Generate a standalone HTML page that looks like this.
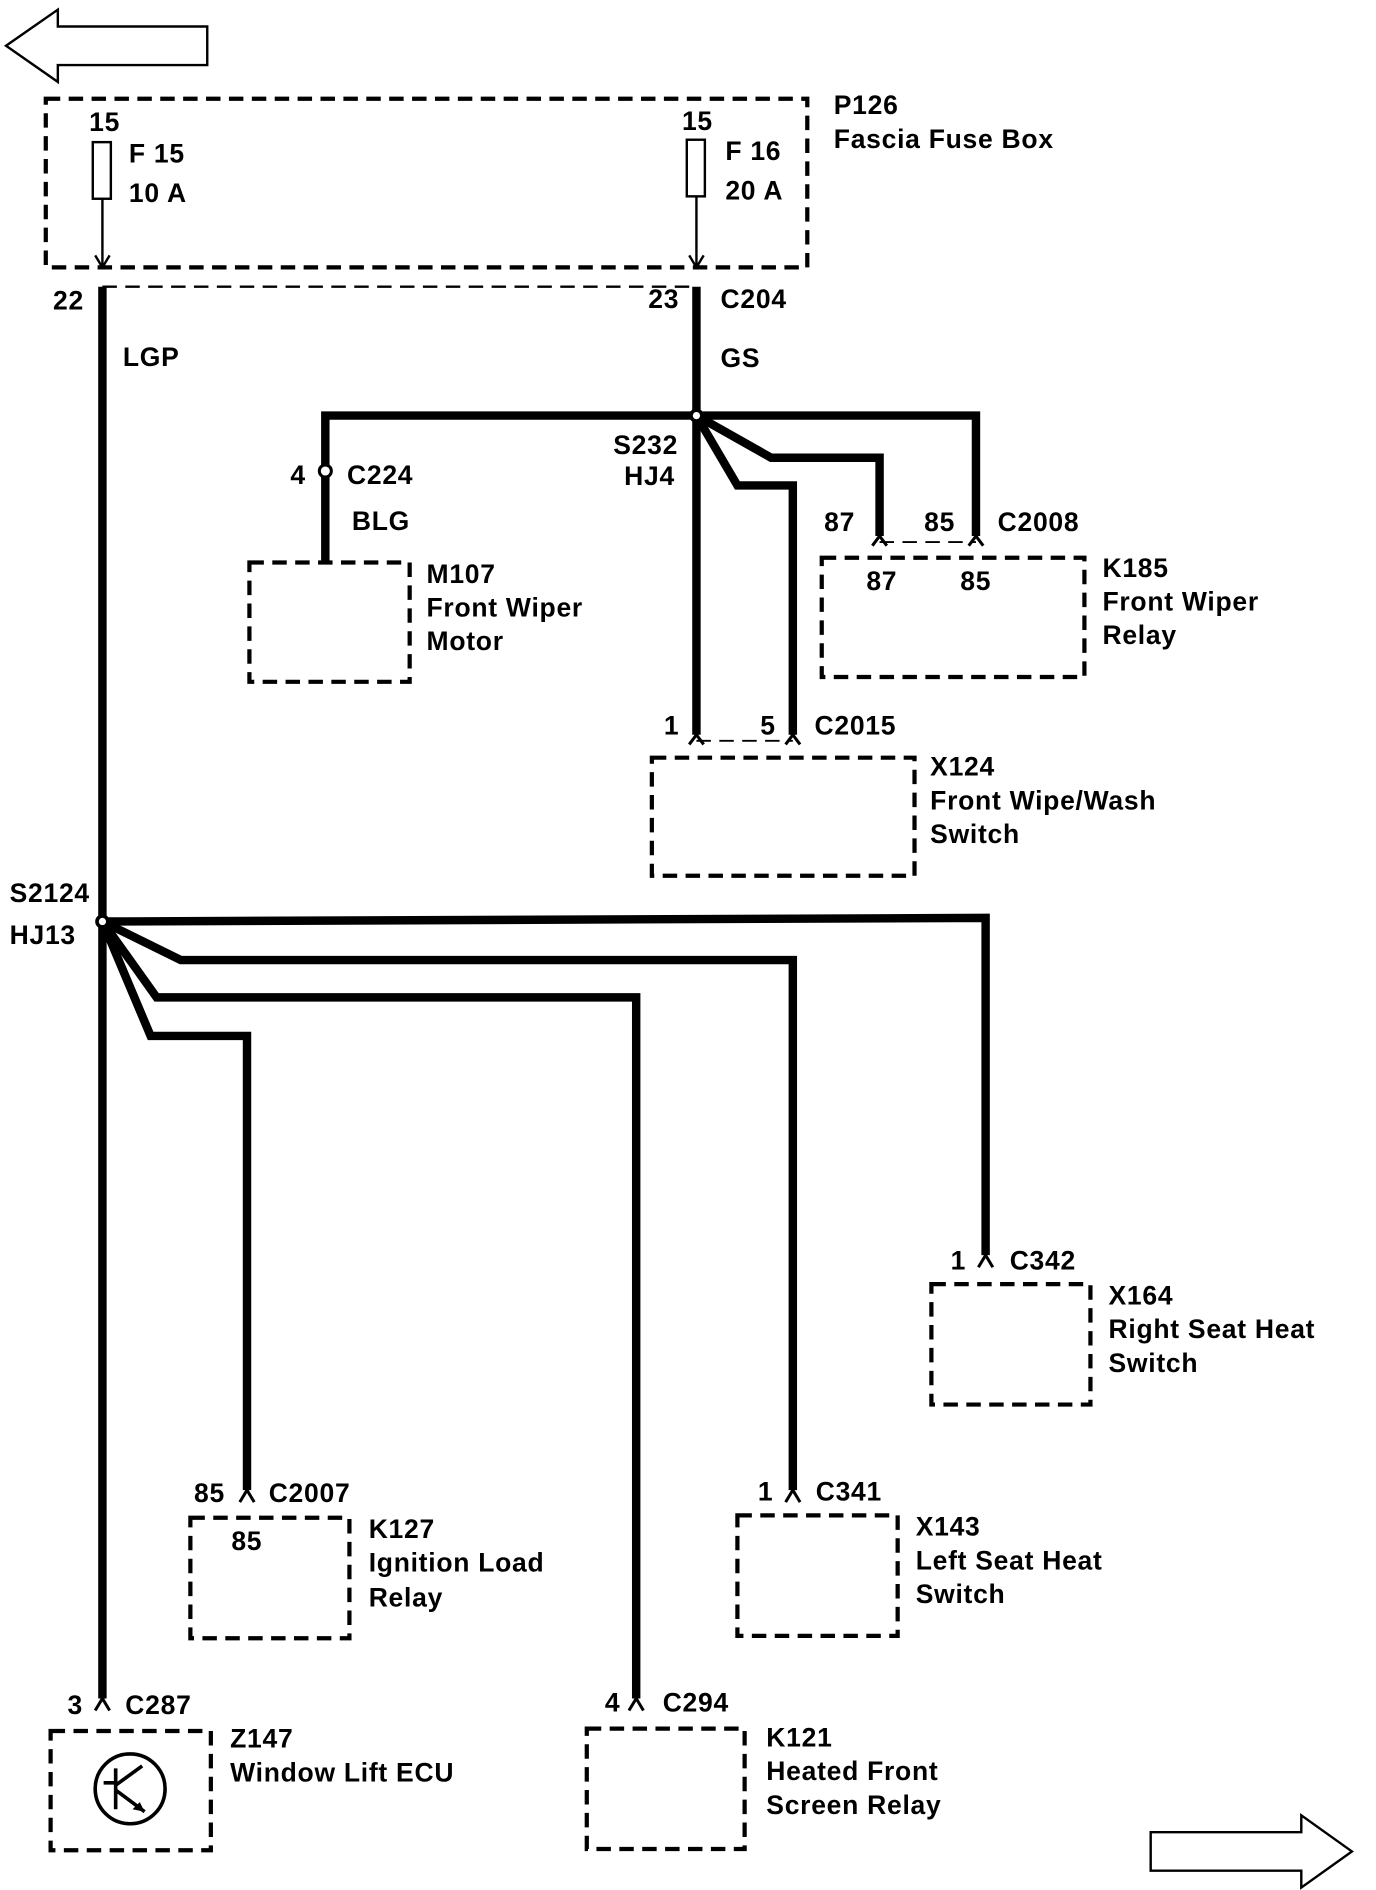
<!DOCTYPE html>
<html><head><meta charset="utf-8"><style>
html,body{margin:0;padding:0;background:#fff;}
svg{display:block;}
text{font-family:"Liberation Sans",Arial,sans-serif;font-weight:bold;font-size:22px;letter-spacing:0.6px;fill:#000;dominant-baseline:middle;}
.w{stroke:#000;stroke-width:7;fill:none;stroke-linejoin:miter;}
.d{stroke:#000;stroke-width:3.5;fill:none;stroke-dasharray:12 7;}
.t{stroke:#000;stroke-width:2;fill:none;}
</style></head><body>
<svg width="1376" height="1890" viewBox="0 0 1142 1569" preserveAspectRatio="none" xmlns="http://www.w3.org/2000/svg">
<path class="t" d="M5,38 L48,8 L48,22 L172,22 L172,54 L48,54 L48,68 Z"/>
<path class="t" d="M1122,1537 L1080,1507 L1080,1521 L955,1521 L955,1553 L1080,1553 L1080,1567 Z"/>
<rect class="d" x="38" y="82" width="632" height="140"/>
<rect class="t" x="77" y="118" width="15" height="47"/>
<rect class="t" x="570" y="116" width="15" height="47"/>
<line class="t" x1="85" y1="165" x2="85" y2="222"/>
<line class="t" x1="578" y1="163" x2="578" y2="222"/>
<path class="t" d="M79,212 L85,222 L91,212"/>
<path class="t" d="M572,212 L578,222 L584,212"/>
<text x="74" y="103">15</text><text x="107" y="129">F 15</text><text x="107" y="162">10 A</text>
<text x="566" y="102">15</text><text x="602" y="127">F 16</text><text x="602" y="160">20 A</text>
<text x="692" y="89">P126</text><text x="692" y="117">Fascia Fuse Box</text>
<line class="d" x1="85" y1="238" x2="578" y2="238" style="stroke-width:2"/>
<text x="44" y="251">22</text><text x="538" y="250">23</text><text x="598" y="250">C204</text>
<path class="w" d="M85,238 L85,1410"/>
<text x="102" y="298">LGP</text>
<path class="w" d="M578,238 L578,345"/>
<text x="598" y="299">GS</text>
<path class="w" d="M578,345 L270,345 L270,467"/>
<circle cx="270" cy="391" r="5" fill="#fff" stroke="#000" stroke-width="2.5"/>
<text x="241" y="396">4</text><text x="288" y="396">C224</text><text x="292" y="434">BLG</text>
<rect class="d" x="207" y="467" width="133" height="99"/>
<text x="354" y="478">M107</text><text x="354" y="506">Front Wiper</text><text x="354" y="534">Motor</text>
<path class="w" d="M578,345 L810,345 L810,445"/>
<path class="w" d="M578,345 L640,380 L730,380 L730,445"/>
<line class="d" x1="730" y1="450" x2="810" y2="450" style="stroke-width:1.5"/>
<text x="684" y="435">87</text><text x="767" y="435">85</text><text x="828" y="435">C2008</text>
<rect class="d" x="682" y="463" width="218" height="99"/>
<text x="719" y="484">87</text><text x="797" y="484">85</text>
<text x="915" y="473">K185</text><text x="915" y="501">Front Wiper</text><text x="915" y="529">Relay</text>
<path class="w" d="M578,345 L578,610"/>
<path class="w" d="M578,345 L612,403 L658,403 L658,610"/>
<line class="d" x1="578" y1="615" x2="658" y2="615" style="stroke-width:1.5"/>
<text x="551" y="604">1</text><text x="631" y="604">5</text><text x="676" y="604">C2015</text>
<rect class="d" x="541" y="629" width="218" height="98"/>
<text x="772" y="638">X124</text><text x="772" y="666">Front Wipe/Wash</text><text x="772" y="694">Switch</text>
<circle cx="578" cy="345" r="6" fill="#000"/>
<circle cx="578" cy="345" r="3" fill="#fff"/>
<text x="509" y="371">S232</text><text x="518" y="397">HJ4</text>
<path class="w" d="M85,765 L818,762 L818,1042"/>
<path class="w" d="M85,765 L150,797 L658,797 L658,1237"/>
<path class="w" d="M85,765 L130,828 L528,828 L528,1410"/>
<path class="w" d="M85,765 L125,860 L205,860 L205,1237"/>
<circle cx="85" cy="765" r="6" fill="#000"/>
<circle cx="85" cy="765" r="3" fill="#fff"/>
<text x="8" y="743">S2124</text><text x="8" y="778">HJ13</text>
<g class="t" style="stroke-width:2.5">
<path d="M724,453 L730,445 L736,453"/><path d="M804,453 L810,445 L816,453"/>
<path d="M572,618 L578,610 L584,618"/><path d="M652,618 L658,610 L664,618"/>
<path d="M812,1052 L818,1042 L824,1052"/>
<path d="M652,1247 L658,1237 L664,1247"/>
<path d="M199,1247 L205,1237 L211,1247"/>
<path d="M522,1420 L528,1410 L534,1420"/>
<path d="M79,1420 L85,1410 L91,1420"/>
</g>
<text x="789" y="1048">1</text><text x="838" y="1048">C342</text>
<rect class="d" x="773" y="1066" width="132" height="100"/>
<text x="920" y="1077">X164</text><text x="920" y="1105">Right Seat Heat</text><text x="920" y="1133">Switch</text>
<text x="629" y="1240">1</text><text x="677" y="1240">C341</text>
<rect class="d" x="612" y="1258" width="133" height="100"/>
<text x="760" y="1269">X143</text><text x="760" y="1297">Left Seat Heat</text><text x="760" y="1325">Switch</text>
<text x="161" y="1241">85</text><text x="223" y="1241">C2007</text>
<rect class="d" x="158" y="1260" width="132" height="100"/>
<text x="192" y="1281">85</text>
<text x="306" y="1271">K127</text><text x="306" y="1299">Ignition Load</text><text x="306" y="1328">Relay</text>
<text x="502" y="1415">4</text><text x="550" y="1415">C294</text>
<rect class="d" x="487" y="1435" width="131" height="100"/>
<text x="636" y="1444">K121</text><text x="636" y="1472">Heated Front</text><text x="636" y="1500">Screen Relay</text>
<text x="56" y="1417">3</text><text x="104" y="1417">C287</text>
<rect class="d" x="42" y="1437" width="133" height="99"/>
<circle cx="108" cy="1485" r="29" class="t" style="stroke-width:3"/>
<path class="t" style="stroke-width:3" d="M96,1468 L96,1502 M96,1480 L86,1480 M96,1486 L120,1504 M96,1482 L118,1466"/>
<path d="M120,1504 L110,1502 L116,1496 Z" fill="#000"/>
<text x="191" y="1445">Z147</text><text x="191" y="1473">Window Lift ECU</text>
</svg>
</body></html>
